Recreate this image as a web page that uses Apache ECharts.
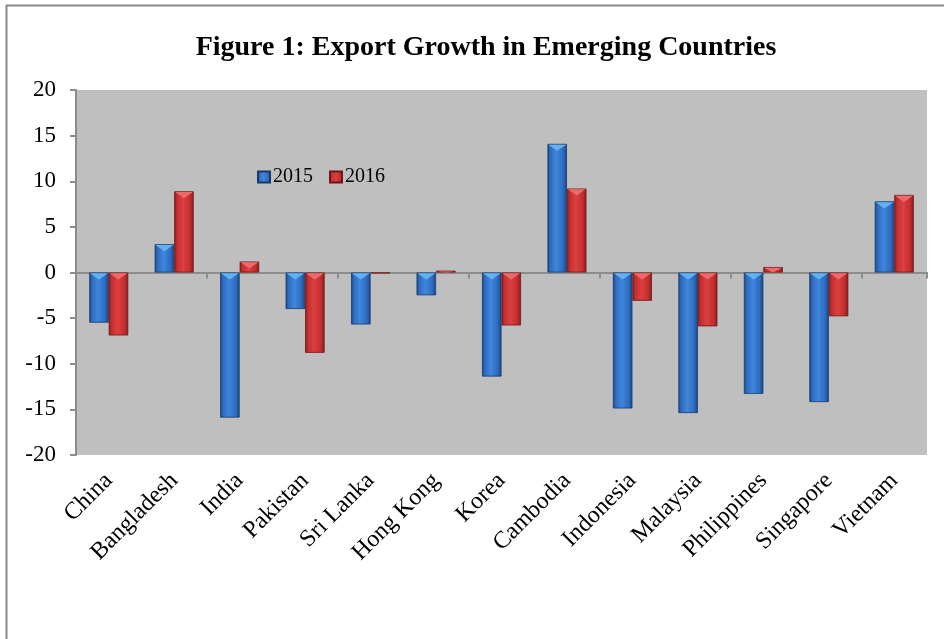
<!DOCTYPE html>
<html>
<head>
<meta charset="utf-8">
<script src="https://cdn.jsdelivr.net/npm/echarts@6/dist/echarts.min.js"></script>
<style>
html,body{margin:0;padding:0;background:#fff;}
#c{width:944px;height:639px;}
</style>
</head>
<body>
<div id="c"></div>
<script>
const categories = ['China','Bangladesh','India','Pakistan','Sri Lanka','Hong Kong','Korea','Cambodia','Indonesia','Malaysia','Philippines','Singapore','Vietnam'];
const values2015 = [-5.5, 3.1, -15.9, -4.0, -5.7, -2.5, -11.4, 14.1, -14.9, -15.4, -13.3, -14.2, 7.8];
const values2016 = [-6.9, 8.9, 1.2, -8.8, -0.1, 0.2, -5.8, 9.2, -3.1, -5.9, 0.6, -4.8, 8.5];
const yTicks = {min: -20, max: 20, interval: 5};
const titleText = 'Figure 1: Export Growth in Emerging Countries';

const FONT = '"Liberation Serif", "Times New Roman", serif';
const BAR_W = 19.5;

function grad(edge, mid, light) {
  return new echarts.graphic.LinearGradient(0, 0, 1, 0, [
    {offset: 0, color: edge},
    {offset: 0.15, color: mid},
    {offset: 0.45, color: light},
    {offset: 0.8, color: mid},
    {offset: 1, color: edge}
  ]);
}

function bevel(sign, color) {
  return function (params, api) {
    const idx = api.value(0);
    const v = api.value(1);
    const p0 = api.coord([idx, 0]);
    const pv = api.coord([idx, v]);
    const top = Math.min(p0[1], pv[1]);
    const bottom = Math.max(p0[1], pv[1]);
    const h = Math.min(7, bottom - top);
    if (h <= 0.5) return null;
    const x0 = sign < 0 ? p0[0] - BAR_W : p0[0];
    const x1 = x0 + BAR_W;
    return {
      type: 'polygon',
      shape: {points: [[x0 + 0.8, top + 0.8], [x1 - 0.8, top + 0.8], [(x0 + x1) / 2, top + h]]},
      style: {fill: color},
      z2: 10
    };
  };
}

const chart = echarts.init(document.getElementById('c'), null, {renderer: 'canvas'});
chart.setOption({
  backgroundColor: '#ffffff',
  animation: false,
  title: {
    text: titleText,
    left: 481, top: 29, textAlign: 'center',
    textStyle: {fontFamily: FONT, fontWeight: 'bold', fontSize: 28, color: '#000'}
  },
  legend: {
    left: 252, top: 162,
    itemWidth: 12, itemHeight: 11, itemGap: 16,
    icon: 'rect',
    textStyle: {fontFamily: FONT, fontSize: 20, color: '#000', padding: [0,0,0,-2]},
    data: ['2015', '2016']
  },
  graphic: [
    {type: 'line', shape: {x1: 6.5, y1: 5, x2: 6.5, y2: 639}, style: {stroke: '#878787', lineWidth: 2}, silent: true},
    {type: 'line', shape: {x1: 6, y1: 5.5, x2: 944, y2: 5.5}, style: {stroke: '#878787', lineWidth: 2}, silent: true}
  ],
  grid: [
    {left: 76, right: 17, top: 90, bottom: 184, show: true, backgroundColor: '#bfbfbf', borderWidth: 0, containLabel: false}
  ],
  xAxis: [
    {
      gridIndex: 0, type: 'category', data: categories, position: 'top',
      axisLine: {show: true, onZero: true, lineStyle: {color: '#8c8c8c', width: 2}},
      axisTick: {show: true, inside: true, length: 6, lineStyle: {color: '#8c8c8c', width: 2}},
      axisLabel: {show: false},
      splitLine: {show: false}
    },
    {
      gridIndex: 0, type: 'category', data: categories, position: 'bottom',
      axisLine: {show: false, onZero: false},
      axisTick: {show: false},
      axisLabel: {show: true, interval: 0, rotate: 45, margin: 22, fontFamily: FONT, fontSize: 24, color: '#000'},
      splitLine: {show: false}
    }
  ],
  yAxis: [
    {
      gridIndex: 0, type: 'value', min: yTicks.min, max: yTicks.max, interval: yTicks.interval,
      axisLine: {show: true, lineStyle: {color: '#8c8c8c', width: 2}},
      axisTick: {show: true, length: 6, lineStyle: {color: '#8c8c8c', width: 2}},
      axisLabel: {margin: 20, fontFamily: FONT, fontSize: 23, color: '#000'},
      splitLine: {show: false}
    }
  ],
  series: [
    {
      name: '2015', type: 'bar', xAxisIndex: 0, yAxisIndex: 0,
      data: values2015, barWidth: BAR_W, barGap: '0%',
      itemStyle: {color: grad('#1b4581', '#2f6cc0', '#3f86dc'), borderColor: '#173a6b', borderWidth: 0.8}
    },
    {
      name: '2016', type: 'bar', xAxisIndex: 0, yAxisIndex: 0,
      data: values2016, barWidth: BAR_W, barGap: '0%',
      itemStyle: {color: grad('#861c1c', '#c42f2f', '#dc4040'), borderColor: '#701616', borderWidth: 0.8}
    },
    {
      name: '2015 bevel', type: 'custom', xAxisIndex: 0, yAxisIndex: 0, z: 5, silent: true,
      renderItem: bevel(-1, '#64b1f2'),
      data: values2015.map((v, i) => [i, v])
    },
    {
      name: '2016 bevel', type: 'custom', xAxisIndex: 0, yAxisIndex: 0, z: 5, silent: true,
      renderItem: bevel(1, '#ee6a6a'),
      data: values2016.map((v, i) => [i, v])
    }
  ]
});
</script>
</body>
</html>
